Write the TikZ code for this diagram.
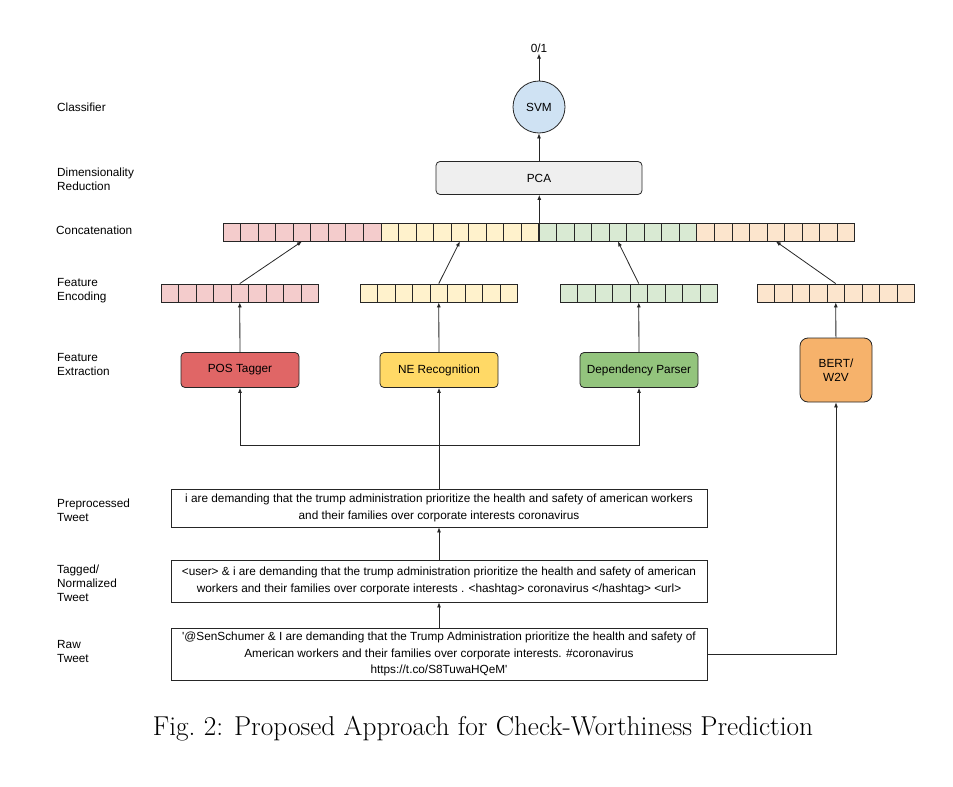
\documentclass[tikz,border=0pt]{standalone}
\usepackage{fontspec}
\newfontfamily\arialfont{Liberation Sans}
\usepackage{tikz}
\usetikzlibrary{arrows.meta,positioning}

\definecolor{cellpink}{HTML}{F4CCCC}
\definecolor{cellyellow}{HTML}{FFF2CC}
\definecolor{cellgreen}{HTML}{D9EAD3}
\definecolor{cellorange}{HTML}{FCE5CD}
\definecolor{taggerred}{HTML}{E06666}
\definecolor{neryellow}{HTML}{FFD966}
\definecolor{parsergreen}{HTML}{93C47D}
\definecolor{bertorange}{HTML}{F6B26B}
\definecolor{svmblue}{HTML}{CFE2F3}
\definecolor{pcagray}{HTML}{EFEFEF}
\definecolor{linegray}{HTML}{262626}

\tikzset{
    cell/.style={draw=linegray, line width=0.8pt, minimum width=17.5pt, minimum height=18pt, inner sep=0pt},
    stagebox/.style={draw=linegray, line width=0.8pt, rounded corners=4pt, minimum width=118pt, minimum height=35pt, inner sep=0pt},
    tweetbox/.style={draw=linegray, line width=0.8pt, minimum width=536pt, align=center, inner sep=0pt, font=\arialfont\fontsize{11.8}{16.5}\selectfont},
    stagelabel/.style={anchor=west, align=left, inner sep=0pt},
    arr/.style={draw=linegray, line width=0.8pt, -{Latex[length=5pt,width=4pt]}}
}

\begin{document}
\begin{tikzpicture}[x=1pt, y=-1pt, font=\arialfont\fontsize{11.8}{14}\selectfont]
    \useasboundingbox (0,0) rectangle (953,787);

    % Stage labels
    \node[stagelabel] (lbl-cls) at (57,107) {Classifier};
    \node[stagelabel] (lbl-pca) at (57,179) {Dimensionality\\Reduction};
    \node[stagelabel] (lbl-cat) at (56,230) {Concatenation};
    \node[stagelabel] (lbl-enc) at (57,291) {Feature\\Encoding};
    \node[stagelabel] (lbl-ext) at (57,364) {Feature\\Extraction};
    \node[stagelabel] (lbl-prep) at (57,510) {Preprocessed\\Tweet};
    \node[stagelabel] (lbl-tag) at (57,583) {Tagged/\\Normalized\\Tweet};
    \node[stagelabel] (lbl-raw) at (57,651) {Raw\\Tweet};

    % Concatenated vector
    \foreach \blk/\col in {0/cellpink, 1/cellyellow, 2/cellgreen, 3/cellorange}
    {
        \foreach \j in {1,...,9}
        {
            \pgfmathtruncatemacro{\i}{\blk*9+\j}
            \node[cell, fill=\col] (cat-\i) at ({223+(\i-0.5)*17.55}, 232) {};
        }
    }

    % Feature encodings
    \foreach \name/\xs/\col in {tagger/161/cellpink, ner/360/cellyellow, parser/560/cellgreen, bert/757/cellorange}
    {
        \foreach \j in {1,...,9}
            \node[cell, fill=\col] (\name-enc-\j) at ({\xs+(\j-0.5)*17.5}, 293) {};
    }

    % Feature extractors
    \node[stagebox, fill=taggerred] (tagger) at (240,370) {POS Tagger};
    \node[stagebox, fill=neryellow] (ner) at (439,370) {NE Recognition};
    \node[stagebox, fill=parsergreen] (parser) at (639,370) {Dependency Parser};
    \node[stagebox, fill=bertorange, minimum width=72pt, minimum height=64pt, rounded corners=8pt, align=center] (bert) at (836,370) {BERT/\\W2V};

    % Classifier part
    \node[stagebox, fill=pcagray, minimum width=206pt, minimum height=33pt] (pca) at (539,178) {PCA};
    \node[circle, draw=linegray, line width=0.8pt, fill=svmblue, minimum size=52pt, inner sep=0pt] (svm) at (539,107) {SVM};
    \node[inner sep=1pt] (out) at (539,48) {0/1};

    % Tweets
    \node[tweetbox, minimum height=38pt] (prep) at (439,508)
        {i are demanding that the trump administration prioritize the health and safety of american workers\\
         and their families over corporate interests coronavirus};
    \node[tweetbox, minimum height=42pt] (tagged) at (439,581)
        {<user> \& i are demanding that the trump administration prioritize the health and safety of american\\
         workers and their families over corporate interests . <hashtag> coronavirus </hashtag> <url>};
    \node[tweetbox, minimum height=52pt] (raw) at (439,654)
        {'@SenSchumer \& I are demanding that the Trump Administration prioritize the health and safety of\\
         American workers and their families over corporate interests. \#coronavirus\\
         https://t.co/S8TuwaHQeM'};

    % Connections
    \coordinate (split) at (439,445);
    \draw[arr] (raw) -- (tagged);
    \draw[arr] (tagged) -- (prep);
    \draw[arr] (prep) -- (ner);
    \draw[arr] (split) -| (tagger);
    \draw[arr] (split) -| (parser);
    \draw[arr] (raw.east) -| (bert);

    \foreach \name/\k in {tagger/5, ner/14, parser/23, bert/32}
    {
        \draw[arr] (\name) -- (\name-enc-5);
        \draw[arr] (\name-enc-5.north) -- (cat-\k.south);
    }

    \draw[arr] (cat-18.north east) -- (pca.south -| cat-18.north east);
    \draw[arr] (pca) -- (svm);
    \draw[arr] (svm) -- (out);

    % Caption
    \node[font=\rmfamily\fontsize{27.3}{32}\selectfont] (caption) at (483,729) {Fig.~2: Proposed Approach for Check-Worthiness Prediction};
\end{tikzpicture}
\end{document}
